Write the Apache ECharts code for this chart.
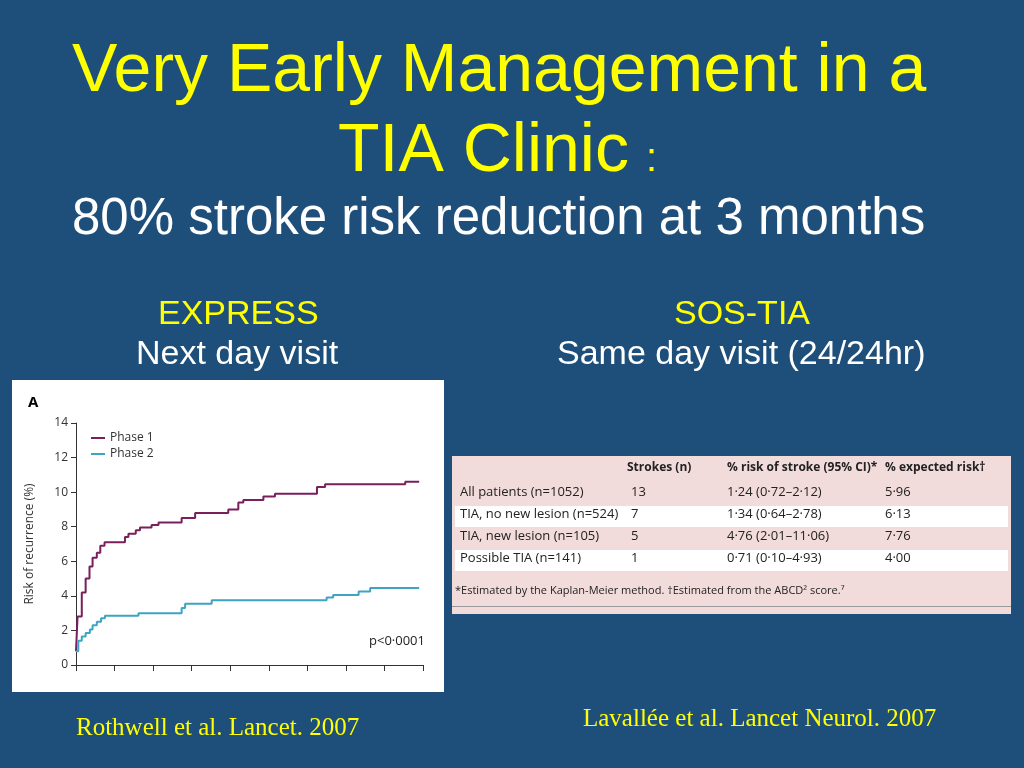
<!DOCTYPE html>
<html><head><meta charset="utf-8">
<script src="https://cdn.jsdelivr.net/npm/echarts@6/dist/echarts.min.js"></script>
<style>html,body{margin:0;padding:0;background:#1d4f7a}#c{width:1024px;height:768px}</style>
</head><body><div id="c"></div>
<script>
// Kaplan-Meier curves: [day, risk %]
var phase1 = [[0,0.8],[0.4,2.8],[1.5,4.2],[2.5,5.0],[3.5,5.7],[4.3,6.2],[5.4,6.5],[6.3,6.9],[7.4,7.1],[12.7,7.4],[13.6,7.6],[15.5,7.8],[16.6,7.95],[19.6,8.1],[21.4,8.25],[27.4,8.5],[30.9,8.8],[39.5,9.0],[42.1,9.4],[43.4,9.55],[48.6,9.75],[51.6,9.9],[62.5,10.3],[64.6,10.45],[85.4,10.6],[89,10.6]];
var phase2 = [[0,0.8],[0.6,1.4],[1.5,1.65],[2.5,1.85],[3.6,2.05],[4.3,2.3],[5.4,2.5],[6.5,2.7],[7.5,2.85],[16.2,3.0],[27.4,3.3],[28.3,3.55],[35.2,3.75],[65,3.9],[66.7,4.05],[73.3,4.25],[76.3,4.45],[89,4.45]];

var tableHeader = ['', 'Strokes (n)', '% risk of stroke (95% CI)*', '% expected risk\u2020'];
var tableRows = [
  ['All patients (n=1052)', '13', '1\u00b724 (0\u00b772\u20132\u00b712)', '5\u00b796'],
  ['TIA, no new lesion (n=524)', '7', '1\u00b734 (0\u00b764\u20132\u00b778)', '6\u00b713'],
  ['TIA, new lesion (n=105)', '5', '4\u00b776 (2\u00b701\u201311\u00b706)', '7\u00b776'],
  ['Possible TIA (n=141)', '1', '0\u00b771 (0\u00b710\u20134\u00b793)', '4\u00b700']
];
var footnote = '*Estimated by the Kaplan-Meier method. \u2020Estimated from the ABCD\u00b2 score.\u2077';

var chart = echarts.init(document.getElementById('c'));
var yellow = '#ffff00';
var g = [];
function txt(x, y, s, font, color) {
  g.push({type:'text', left:x, top:y, style:{text:s, font:font, fill:color || yellow}});
}
// white panel behind the chart and pink table panel
g.push({type:'rect', shape:{x:12,y:380,width:432,height:312}, style:{fill:'#fff'}, z:-1});
g.push({type:'rect', shape:{x:452,y:456,width:559,height:158}, style:{fill:'#f2dcdb'}, z:-1});
g.push({type:'rect', shape:{x:455,y:506,width:553,height:21}, style:{fill:'#fff'}, z:-1});
g.push({type:'rect', shape:{x:455,y:550,width:553,height:21}, style:{fill:'#fff'}, z:-1});
g.push({type:'rect', shape:{x:452,y:606,width:559,height:1}, style:{fill:'#999'}, z:-1});

txt(72, 38, 'Very Early Management in a', '68px "Liberation Sans", Arial');
txt(338, 118, 'TIA Clinic', '68px "Liberation Sans", Arial');
txt(646, 140, ':', '40px "Liberation Sans", Arial');
txt(72, 194, '80% stroke risk reduction at 3 months', '51px "Liberation Sans", Arial', '#ffffff');
txt(158, 298, 'EXPRESS', '34px "Liberation Sans", Arial');
txt(136, 338, 'Next day visit', '34px "Liberation Sans", Arial', '#ffffff');
txt(674, 298, 'SOS-TIA', '34px "Liberation Sans", Arial');
txt(557, 338, 'Same day visit (24/24hr)', '34px "Liberation Sans", Arial', '#ffffff');
txt(76, 716, 'Rothwell et al. Lancet. 2007', '25px "Liberation Serif", serif');
txt(583, 707, 'Lavall\u00e9e et al. Lancet Neurol. 2007', '25px "Liberation Serif", serif');
txt(28, 395, 'A', 'bold 15px "Open Sans"', '#000');
txt(369, 635, 'p<0\u00b70001', '13px "Open Sans"', '#222');

var colX = [460, 627, 727, 885];
for (var c = 1; c < 4; c++) txt(colX[c], 462, tableHeader[c], 'bold 12px "Open Sans"', '#222');
for (var r = 0; r < tableRows.length; r++) {
  for (var c = 0; c < 4; c++) {
    txt(colX[c] + (c == 1 ? 4 : 0), 486 + r * 22, tableRows[r][c], '13px "Open Sans"', '#222');
  }
}
txt(455, 585, footnote, '11px "Open Sans"', '#222');

chart.setOption({
  animation: false,
  backgroundColor: '#1d4f7a',
  graphic: g,
  grid: {left: 76, top: 423, width: 347, height: 242},
  legend: {
    left: 86, top: 427, orient: 'vertical', itemWidth: 14, itemHeight: 2, itemGap: 4,
    textStyle: {fontSize: 12, color: '#333', fontFamily: 'Open Sans'},
    data: [{name:'Phase 1', icon:'rect'}, {name:'Phase 2', icon:'rect'}]
  },
  xAxis: {
    type: 'value', min: 0, max: 90, interval: 10,
    axisLine: {lineStyle: {color: '#333'}}, axisTick: {length: 6, lineStyle: {color: '#333'}},
    axisLabel: {show: false}, splitLine: {show: false}
  },
  yAxis: {
    type: 'value', min: 0, max: 14, interval: 2,
    name: 'Risk of recurrence (%)', nameLocation: 'middle', nameGap: 40,
    nameTextStyle: {fontSize: 12, color: '#333', fontFamily: 'Open Sans'},
    axisLine: {show: true, lineStyle: {color: '#333'}}, axisTick: {show: true, length: 5, lineStyle: {color: '#333'}},
    axisLabel: {fontSize: 12, color: '#333', fontFamily: 'Open Sans'}, splitLine: {show: false}
  },
  series: [
    {name: 'Phase 1', type: 'line', step: 'end', data: phase1, showSymbol: false, color: '#7a1e5c', lineStyle: {width: 2}},
    {name: 'Phase 2', type: 'line', step: 'end', data: phase2, showSymbol: false, color: '#3fa3c4', lineStyle: {width: 2}}
  ]
});
</script></body></html>
